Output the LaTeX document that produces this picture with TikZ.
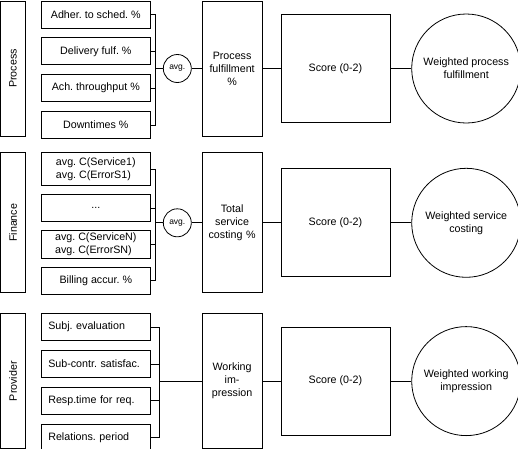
\documentclass[tikz,border=0pt]{standalone}
\usepackage{fontspec}
\setmainfont{Liberation Sans}
\usepackage{graphicx}
\usepackage{tikz}
\frenchspacing
\tikzstyle{catbox}=[draw, minimum width=25pt, minimum height=135pt, inner sep=0pt]
\tikzstyle{item}=[draw, minimum width=109pt, minimum height=27pt, inner sep=1pt]
\tikzstyle{itemleft}=[item, text width=95pt, inner xsep=7pt, align=left]
\tikzstyle{avg}=[circle, draw, minimum size=28pt, inner sep=0pt, font=\fontsize{8.5}{10}\selectfont]
\tikzstyle{midbox}=[draw, minimum width=60pt, minimum height=135pt, text width=56pt, inner sep=2pt, align=center]
\tikzstyle{score}=[draw, minimum width=109pt, minimum height=108pt]
\tikzstyle{result}=[circle, draw, minimum size=109pt, inner sep=0pt, align=center]
\usetikzlibrary{positioning}

\begin{document}
\begin{tikzpicture}[node distance=1cm, line width=0.8pt, font=\fontsize{10.7}{13}\selectfont]
\useasboundingbox (0,0) rectangle (518pt,-448pt);
% process
\node (proc) [catbox] at (13pt,-68.5pt) {\rotatebox{90}{Process}};
\node (adher) [item, below right=0pt and 15pt of proc.north east] {Adher. to sched. \%};
\node (deliv) [item, below=9pt of adher] {Delivery fulf. \%};
\node (ach) [item, below=9pt of deliv] {Ach. throughput \%};
\node (down) [item, below=9pt of ach] {Downtimes \%};
\node (procful) [midbox, below right=0pt and 51pt of adher.north east] {Process\\fulfillment\\\%};
\node (avgP) [avg, left=10pt of procful] {avg.};
\node (scoreP) [score, right=18pt of procful] {Score (0-2)};
\node (wproc) [result, right=21pt of scoreP] {Weighted process\\fulfillment};
\coordinate (brP) at ([xshift=5pt]adher.east |- avgP.west);
\draw (adher.east) -- ++(5pt,0) |- (down.east);
\draw (deliv.east) -- ++(5pt,0);
\draw (ach.east) -- ++(5pt,0);
\draw (brP) -- (avgP);
\draw (avgP) -- (procful);
\draw (procful) -- (scoreP);
\draw (scoreP) -- (wproc);
% finance
\node (fin) [catbox, minimum height=140pt, below=16pt of proc] {\rotatebox{90}{Finance}};
\node (svc1) [item, minimum height=33pt, align=left, below right=0pt and 15pt of fin.north east] {avg. C(Service1)\\avg. C(ErrorS1)};
\node (dots) [item, below=8pt of svc1] {...};
\node (svcN) [item, minimum height=28pt, align=left, below=8pt of dots] {avg. C(ServiceN)\\avg. C(ErrorSN)};
\node (bill) [item, below=8pt of svcN] {Billing accur. \%};
\node (costing) [midbox, minimum height=140pt, below right=0pt and 51pt of svc1.north east] {Total\\service\\costing \%};
\node (avgF) [avg, left=10pt of costing] {avg.};
\node (scoreF) [score, right=18pt of costing] {Score (0-2)};
\node (wcost) [result, right=21pt of scoreF] {Weighted service\\costing};
\coordinate (brF) at ([xshift=5pt]svc1.east |- avgF.west);
\draw (svc1.east) -- ++(5pt,0) |- (bill.east);
\draw (dots.east) -- ++(5pt,0);
\draw (svcN.east) -- ++(5pt,0);
\draw (brF) -- (avgF);
\draw (avgF) -- (costing);
\draw (costing) -- (scoreF);
\draw (scoreF) -- (wcost);
% provider
\node (prov) [catbox, below=20pt of fin] {\rotatebox{90}{Provider}};
\node (subj) [itemleft, below right=0pt and 15pt of prov.north east] {Subj. evaluation};
\node (subc) [itemleft, below=9pt of subj] {Sub-contr. satisfac.};
\node (resp) [itemleft, below=9pt of subc] {Resp.time for req.};
\node (relat) [itemleft, below=9pt of resp] {Relations. period};
\node (work) [midbox, below right=0pt and 51pt of subj.north east] {Working\\im-\\pression};
\node (scoreW) [score, right=18pt of work] {Score (0-2)};
\node (wwork) [result, right=21pt of scoreW] {Weighted working\\impression};
\coordinate (brW) at ([xshift=9pt]subj.east |- work.west);
\draw (subj.east) -- ++(9pt,0) |- (relat.east);
\draw (subc.east) -- ++(9pt,0);
\draw (resp.east) -- ++(9pt,0);
\draw (brW) -- (work);
\draw (work) -- (scoreW);
\draw (scoreW) -- (wwork);
\end{tikzpicture}
\end{document}
